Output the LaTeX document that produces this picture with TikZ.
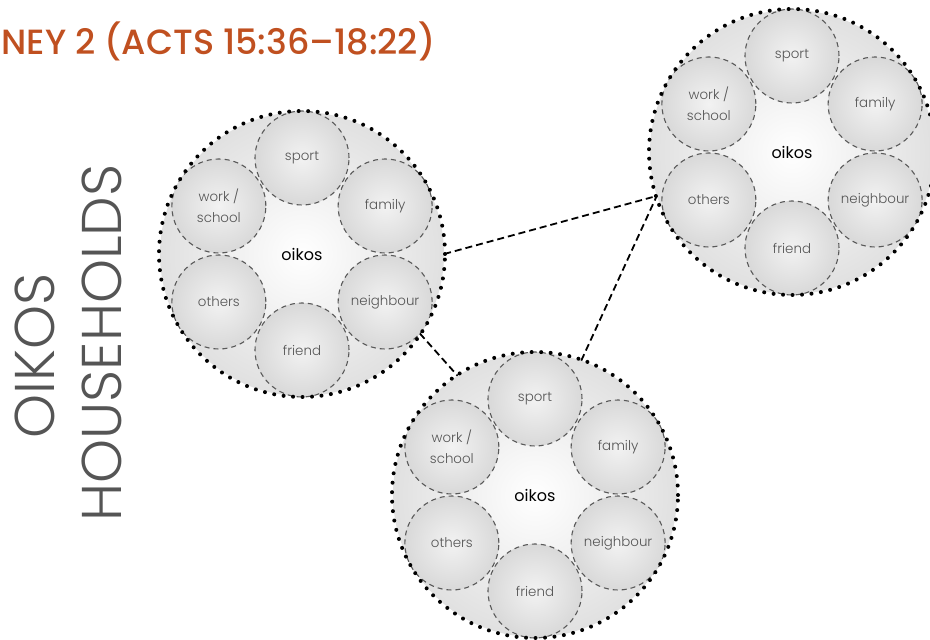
\documentclass[tikz,border=0pt]{standalone}
\usepackage{fontspec}
\setmainfont{Poppins}
\newfontfamily\thinfont{Poppins Light}
\newfontfamily\midfont{Poppins Medium}
\usetikzlibrary{positioning}
\definecolor{rust}{RGB}{192,80,32}
\definecolor{ink}{RGB}{85,85,85}
\tikzset{hub/.style={circle,minimum size=284pt,inner sep=0pt,inner color=white,outer color=black!12,font=\fontsize{16}{18}\selectfont},
  rim/.style={draw=black,line width=4pt,dash pattern=on 0pt off 9.5pt,line cap=round},
  ring/.style={circle,minimum size=94pt,inner sep=0pt,draw=black!65,line width=1.1pt,dash pattern=on 5pt off 4pt,inner color=black!5,outer color=black!15,text=ink,align=center,font=\thinfont\fontsize{13.4}{21}\selectfont},
  link/.style={draw=black,line width=1.8pt,dash pattern=on 7pt off 4pt}}

\begin{document}
\begin{tikzpicture}[x=1pt,y=1pt]
    \useasboundingbox (0,0) rectangle (930,640);

    % headings
    \node[anchor=base west,text=rust,font=\midfont\fontsize{35}{40}\selectfont] (title) at (-2,585) {NEY 2 (ACTS 15:36–18:22)};
    \node[rotate=90,text=ink,font=\thinfont\fontsize{56}{60}\selectfont] (oikos) at (35,284) {OIKOS};
    \node[rotate=90,text=ink,font=\thinfont\fontsize{56}{60}\selectfont] (households) at (102,297) {HOUSEHOLDS};

    % households
    \node[hub] (a) at (302,386) {oikos};
    \node[hub] (b) at (792,488) {oikos};
    \node[hub] (c) at (535,145) {oikos};

    \node[ring] (asport) at ([shift={(90:96)}]a.center) {sport};
    \node[ring] (afamily) at ([shift={(30:96)}]a.center) {family};
    \node[ring] (aneighbour) at ([shift={(-30:96)}]a.center) {neighbour};
    \node[ring] (afriend) at ([shift={(-90:96)}]a.center) {friend};
    \node[ring] (aothers) at ([shift={(210:96)}]a.center) {others};
    \node[ring] (awork) at ([shift={(150:96)}]a.center) {work /\\school};

    \node[ring] (bsport) at ([shift={(90:96)}]b.center) {sport};
    \node[ring] (bfamily) at ([shift={(30:96)}]b.center) {family};
    \node[ring] (bneighbour) at ([shift={(-30:96)}]b.center) {neighbour};
    \node[ring] (bfriend) at ([shift={(-90:96)}]b.center) {friend};
    \node[ring] (bothers) at ([shift={(210:96)}]b.center) {others};
    \node[ring] (bwork) at ([shift={(150:96)}]b.center) {work /\\school};

    \node[ring] (csport) at ([shift={(90:96)}]c.center) {sport};
    \node[ring] (cfamily) at ([shift={(30:96)}]c.center) {family};
    \node[ring] (cneighbour) at ([shift={(-30:96)}]c.center) {neighbour};
    \node[ring] (cfriend) at ([shift={(-90:96)}]c.center) {friend};
    \node[ring] (cothers) at ([shift={(210:96)}]c.center) {others};
    \node[ring] (cwork) at ([shift={(150:96)}]c.center) {work /\\school};

    \draw[rim] (a.center) circle[radius=143];
    \draw[rim] (b.center) circle[radius=143];
    \draw[rim] (c.center) circle[radius=143];

    % links
    \draw[link] (a.0) -- (b.198);
    \draw[link] (a.-34) -- (c.123);
    \draw[link] (c.71) -- (b.198);
\end{tikzpicture}
\end{document}
